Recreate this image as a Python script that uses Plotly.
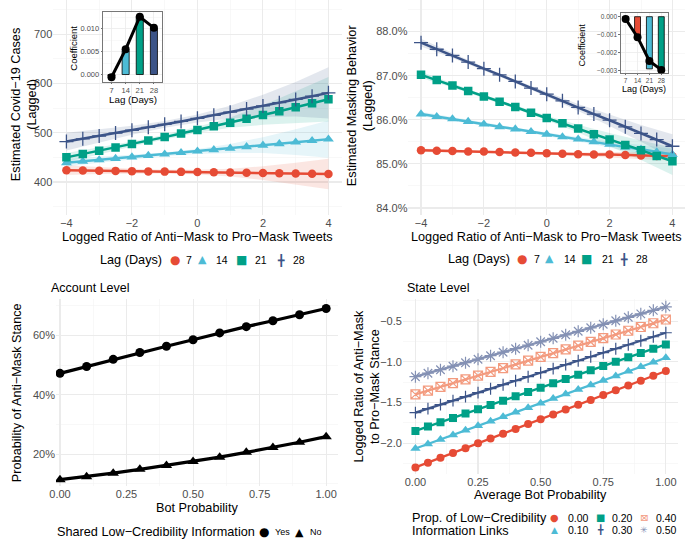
import plotly.graph_objects as go

W, H = 685, 540


def px(x):
    return x / W


def py(y):
    return 1 - y / H


RED, LBLUE, GREEN, NAVY, SALMON, LAV = "#E64B35", "#4DBBD5", "#00A087", "#3C5488", "#F39B7F", "#8491B4"
FONT = "Liberation Sans, Arial, Helvetica, sans-serif"
GLYPH = "DejaVu Sans, sans-serif"

# ---------------- data ----------------
LAGS = ["7", "14", "21", "28"]
LAG_COLORS = [RED, LBLUE, GREEN, NAVY]
LOG_RATIO = [-4, -3.5, -3, -2.5, -2, -1.5, -1, -0.5, 0, 0.5, 1, 1.5, 2, 2.5, 3, 3.5, 4]
RIB_X = [-4, -3, -2, -1, 0, 1, 2, 3, 4]

# Panel A: estimated Covid-19 cases
CASES_7 = [424, 423.5, 423, 422.5, 422, 421.5, 421, 420.5, 420, 419.5, 419, 418.5, 418, 417.5, 417, 416.5, 416]
CASES_14 = [439, 441.9, 444.7, 447.6, 450.5, 453.5, 456.4, 459.4, 462.4, 465.4, 468.4, 471.5, 474.5, 477.6, 480.7, 483.9, 487.0]
CASES_21 = [450, 456.6, 463.3, 470.1, 477.0, 484.0, 491.1, 498.3, 505.6, 513.0, 520.5, 528.2, 535.9, 543.8, 551.8, 559.9, 568.0]
CASES_28 = [482, 487.7, 493.4, 499.2, 505.0, 511.0, 517.0, 523.0, 529.2, 535.4, 541.7, 548.0, 554.5, 561.0, 567.6, 574.2, 581.0]
CASES_LO_7 = [414, 416, 417, 417, 415, 411, 404, 395, 385]
CASES_HI_7 = [434, 430, 427, 425, 425, 427, 432, 439, 447]
CASES_LO_14 = [431, 439, 446, 452, 457, 459, 459, 455, 449]
CASES_HI_14 = [447, 451, 455, 460, 467, 477, 491, 507, 525]
CASES_LO_21 = [441, 456, 472, 486, 500, 510, 516, 520, 523]
CASES_HI_21 = [459, 470, 482, 496, 512, 531, 556, 584, 613]
CASES_LO_28 = [464, 480, 496, 510, 521, 529, 532, 533, 529]
CASES_HI_28 = [500, 507, 514, 524, 537, 555, 577, 603, 633]

# Panel B: estimated masking behaviour (%)
MASK_7 = [85.31, 85.30, 85.29, 85.28, 85.28, 85.27, 85.26, 85.25, 85.24, 85.23, 85.22, 85.21, 85.21, 85.20, 85.19, 85.18, 85.17]
MASK_14 = [86.13, 86.07, 86.02, 85.96, 85.90, 85.84, 85.79, 85.73, 85.67, 85.61, 85.56, 85.50, 85.44, 85.38, 85.33, 85.27, 85.21]
MASK_21 = [87.02, 86.90, 86.78, 86.65, 86.53, 86.41, 86.29, 86.16, 86.04, 85.92, 85.80, 85.67, 85.55, 85.43, 85.31, 85.18, 85.06]
MASK_28 = [87.75, 87.60, 87.46, 87.31, 87.16, 87.02, 86.87, 86.72, 86.58, 86.43, 86.28, 86.13, 85.99, 85.84, 85.69, 85.55, 85.40]
MASK_LO_7 = [85.27, 85.26, 85.26, 85.24, 85.21, 85.18, 85.15, 85.11, 85.07]
MASK_HI_7 = [85.35, 85.32, 85.30, 85.28, 85.27, 85.26, 85.27, 85.27, 85.27]
MASK_LO_14 = [86.08, 85.98, 85.87, 85.76, 85.63, 85.51, 85.37, 85.23, 85.08]
MASK_HI_14 = [86.18, 86.06, 85.93, 85.82, 85.71, 85.61, 85.51, 85.43, 85.34]
MASK_LO_21 = [86.95, 86.73, 86.49, 86.25, 85.99, 85.71, 85.40, 85.09, 84.75]
MASK_HI_21 = [87.09, 86.83, 86.57, 86.33, 86.09, 85.89, 85.70, 85.53, 85.37]
MASK_LO_28 = [87.66, 87.40, 87.12, 86.83, 86.53, 86.20, 85.86, 85.50, 85.13]
MASK_HI_28 = [87.84, 87.52, 87.20, 86.91, 86.63, 86.36, 86.12, 85.88, 85.67]

# Insets: coefficients by lag
INSET_A_BAR = [-0.0004, 0.0052, 0.0127, 0.0101]
INSET_A_PT = [-0.0006, 0.0055, 0.0126, 0.0102]
INSET_A_COLORS = [RED, LBLUE, GREEN, NAVY]
INSET_B_BAR = [0.0, -0.0011, -0.0029, -0.0030]
INSET_B_PT = [-0.00013, -0.00114, -0.00246, -0.00296]
INSET_B_COLORS = [NAVY, RED, LBLUE, GREEN]

# Panel C: account level
BOT_PROB = [0, 0.1, 0.2, 0.3, 0.4, 0.5, 0.6, 0.7, 0.8, 0.9, 1.0]
PROB_YES = [47.2, 49.5, 51.9, 54.2, 56.3, 58.5, 60.8, 62.9, 64.9, 66.9, 69.0]
PROB_NO = [11.4, 12.4, 13.6, 14.9, 16.2, 17.5, 19.0, 20.6, 22.2, 24.0, 25.9]

# Panel D: state level
AVG_BOT = [0, 0.05, 0.1, 0.15, 0.2, 0.25, 0.3, 0.35, 0.4, 0.45, 0.5,
           0.55, 0.6, 0.65, 0.7, 0.75, 0.8, 0.85, 0.9, 0.95, 1.0]
PROP_LABELS = ["0.00", "0.10", "0.20", "0.30", "0.40", "0.50"]
STATE_000 = [-2.298, -2.239, -2.180, -2.120, -2.061, -2.002, -1.943, -1.883, -1.824, -1.765, -1.706,
             -1.646, -1.587, -1.528, -1.469, -1.409, -1.350, -1.291, -1.232, -1.172, -1.113]
STATE_010 = [-2.065, -2.009, -1.954, -1.898, -1.842, -1.786, -1.731, -1.675, -1.619, -1.563, -1.508,
             -1.452, -1.396, -1.340, -1.285, -1.229, -1.173, -1.117, -1.062, -1.006, -0.950]
STATE_020 = [-1.849, -1.796, -1.743, -1.690, -1.636, -1.583, -1.530, -1.477, -1.424, -1.371, -1.318,
             -1.264, -1.211, -1.158, -1.105, -1.052, -0.999, -0.945, -0.892, -0.839, -0.786]
STATE_030 = [-1.624, -1.575, -1.526, -1.477, -1.428, -1.379, -1.330, -1.281, -1.232, -1.183, -1.134,
             -1.084, -1.035, -0.986, -0.937, -0.888, -0.839, -0.790, -0.741, -0.692, -0.643]
STATE_040 = [-1.400, -1.354, -1.308, -1.262, -1.216, -1.170, -1.124, -1.078, -1.032, -0.986, -0.940,
             -0.894, -0.848, -0.802, -0.756, -0.710, -0.664, -0.618, -0.572, -0.526, -0.480]
STATE_050 = [-1.183, -1.140, -1.097, -1.054, -1.011, -0.968, -0.925, -0.882, -0.839, -0.796, -0.754,
             -0.711, -0.668, -0.625, -0.582, -0.539, -0.496, -0.453, -0.410, -0.367, -0.324]


def rgba(hexc, a):
    h = hexc.lstrip("#")
    return "rgba(%d,%d,%d,%.2f)" % (int(h[0:2], 16), int(h[2:4], 16), int(h[4:6], 16), a)


LAG_SYMBOLS = [("circle", 8.5, 0), ("triangle-up", 9.5, 0), ("square", 8.5, 0), ("cross-thin-open", 10, 1.3)]

fig = go.Figure()


def ribbon(x, lo, hi, color, xa, ya):
    fig.add_trace(go.Scatter(
        x=list(x) + list(x)[::-1], y=list(hi) + list(lo)[::-1],
        fill="toself", mode="lines", line=dict(width=0), fillcolor=rgba(color, 0.14),
        hoverinfo="skip", showlegend=False, xaxis=xa, yaxis=ya))


def series(x, y, color, sym, size, lw_m, xa, ya, lw=2.5):
    fig.add_trace(go.Scatter(
        x=x, y=y, mode="lines+markers",
        line=dict(color=color, width=lw),
        marker=dict(symbol=sym, size=size, color=color,
                    line=dict(color=color, width=lw_m)),
        showlegend=False, xaxis=xa, yaxis=ya))


# Panel A
for lo, hi, c in [(CASES_LO_7, CASES_HI_7, RED), (CASES_LO_14, CASES_HI_14, LBLUE),
                  (CASES_LO_21, CASES_HI_21, GREEN), (CASES_LO_28, CASES_HI_28, NAVY)]:
    ribbon(RIB_X, lo, hi, c, "x", "y")
for ys, c, (s, sz, lw) in zip([CASES_7, CASES_14, CASES_21, CASES_28], LAG_COLORS, LAG_SYMBOLS):
    series(LOG_RATIO, ys, c, s, sz, lw, "x", "y")

# Panel B
for lo, hi, c in [(MASK_LO_7, MASK_HI_7, RED), (MASK_LO_14, MASK_HI_14, LBLUE),
                  (MASK_LO_21, MASK_HI_21, GREEN), (MASK_LO_28, MASK_HI_28, NAVY)]:
    ribbon(RIB_X, lo, hi, c, "x2", "y2")
for ys, c, (s, sz, lw) in zip([MASK_7, MASK_14, MASK_21, MASK_28], LAG_COLORS, LAG_SYMBOLS):
    series(LOG_RATIO, ys, c, s, sz, lw, "x2", "y2")

# Panel C
series(BOT_PROB, PROB_YES, "black", "circle", 9, 0, "x3", "y3", lw=3.2)
series(BOT_PROB, PROB_NO, "black", "triangle-up", 10, 0, "x3", "y3", lw=3.2)

# Panel D
D_STYLE = [(STATE_000, RED, "circle", 8, 0), (STATE_010, LBLUE, "triangle-up", 9, 0),
           (STATE_020, GREEN, "square", 8, 0), (STATE_030, NAVY, "cross-thin-open", 8.5, 1.2),
           (STATE_040, SALMON, "square-x-open", 9, 1.2), (STATE_050, LAV, "asterisk-open", 10, 1.2)]
for ys, c, s, sz, lw in D_STYLE:
    series(AVG_BOT, ys, c, s, sz, lw, "x4", "y4", lw=2.3)

# Inset A
fig.add_trace(go.Bar(x=LAGS, y=INSET_A_BAR, width=0.5, marker=dict(color=INSET_A_COLORS, line=dict(color="black", width=0.8)),
                     showlegend=False, xaxis="x5", yaxis="y5"))
fig.add_trace(go.Scatter(x=LAGS, y=INSET_A_PT, mode="lines+markers", line=dict(color="black", width=3),
                         marker=dict(color="black", size=8), showlegend=False, xaxis="x5", yaxis="y5", cliponaxis=False))
# Inset B
fig.add_trace(go.Bar(x=LAGS, y=INSET_B_BAR, width=0.5, marker=dict(color=INSET_B_COLORS, line=dict(color="black", width=0.8)),
                     showlegend=False, xaxis="x6", yaxis="y6"))
fig.add_trace(go.Scatter(x=LAGS, y=INSET_B_PT, mode="lines+markers", line=dict(color="black", width=3),
                         marker=dict(color="black", size=8), showlegend=False, xaxis="x6", yaxis="y6", cliponaxis=False))

GRID = "#EBEBEB"
MINOR = "#F3F3F3"
TICKF = dict(family=FONT, size=11, color="#4D4D4D")


def main_axis(anchor, domain, rng, dtick, mdtick, tick0=0, fmt=None, suffix=""):
    d = dict(anchor=anchor, domain=domain, range=rng, dtick=dtick, tick0=tick0, showgrid=True, gridcolor=GRID,
             gridwidth=1.1, zeroline=False, showline=False, ticks="", tickfont=TICKF, ticksuffix=suffix,
             minor=dict(dtick=mdtick, tick0=tick0, showgrid=True, gridcolor=MINOR, gridwidth=0.6),
             fixedrange=True)
    if fmt:
        d["tickformat"] = fmt
    return d


def inset_axis(anchor, domain, rng, size, cat=False, fmt=None, dtick=None, mdtick=None):
    d = dict(anchor=anchor, domain=domain, range=rng, showline=True, mirror=True, linecolor="#555555",
             linewidth=0.8, showgrid=True, gridcolor=GRID, gridwidth=0.8, zeroline=False,
             ticks="outside", ticklen=1.5, tickwidth=0.7, tickcolor="#333333",
             tickfont=dict(family=FONT, size=size, color="#4D4D4D"), fixedrange=True)
    if cat:
        d["type"] = "category"
    else:
        d["dtick"] = dtick
        d["tick0"] = 0
        d["tickformat"] = fmt
        d["minor"] = dict(dtick=mdtick, tick0=0, showgrid=True, gridcolor=MINOR, gridwidth=0.5)
    return d


fig.update_layout(
    width=W, height=H, margin=dict(l=0, r=0, t=0, b=0),
    paper_bgcolor="white", plot_bgcolor="white", showlegend=False,
    font=dict(family=FONT, color="black"), bargap=0,
    xaxis=main_axis("y", [px(46.8), px(338)], [-4.4, 4.4], 2, 1),
    yaxis=main_axis("x", [py(215), 1.0], [333.7, 769.6], 100, 50),
    xaxis2=main_axis("y2", [px(405.6), 1.0], [-4.4, 4.4], 2, 1),
    yaxis2=main_axis("x2", [py(215), 1.0], [83.849, 88.717], 1, 0.5, fmt=".1f", suffix="%"),
    xaxis3=main_axis("y3", [px(49.5), px(334)], [-0.015, 1.043], 0.25, 0.125, fmt=".2f"),
    yaxis3=main_axis("x3", [py(486.7), py(299.3)], [9.35, 72.3], 20, 10, fmt="d", suffix="%"),
    xaxis4=main_axis("y4", [px(400), px(678.3)], [-0.05, 1.05], 0.25, 0.125, fmt=".2f"),
    yaxis4=main_axis("x4", [py(475), py(299.3)], [-2.38, -0.225], 0.5, 0.25, fmt=".1f"),
    xaxis5=inset_axis("y5", [px(97), px(157)], [-0.6, 3.6], 7.5, cat=True),
    yaxis5=inset_axis("x5", [py(82), py(12.3)], [-0.0016, 0.0136], 7.5, fmt=".3f", dtick=0.005, mdtick=0.0025),
    xaxis6=inset_axis("y6", [px(620), px(668)], [-0.42, 3.58], 6.5, cat=True),
    yaxis6=inset_axis("x6", [py(73.3), py(13.3)], [-0.00314, 0.00019], 6.5, fmt=".3f", dtick=0.001, mdtick=0.0005),
)

ann = []


def text(x, y, s, size=12.7, xanchor="left", color="black", angle=0, family=FONT):
    ann.append(dict(x=px(x), y=py(y), xref="paper", yref="paper", text=s, showarrow=False,
                    xanchor=xanchor, yanchor="middle", textangle=angle,
                    font=dict(family=family, size=size, color=color), borderpad=0))


# axis titles
text(192.4, 237, "Logged Ratio of Anti−Mask to Pro−Mask Tweets", xanchor="center")
text(545.3, 237, "Logged Ratio of Anti−Mask to Pro−Mask Tweets", xanchor="center")
text(191.7, 509.3, "Bot Probability", xanchor="center")
text(539.2, 496, "Average Bot Probability", xanchor="center")
text(17.5, 105, "Estimated Covid−19 Cases<br>(Lagged)", xanchor="center", angle=-90)
text(357, 105, "Estimated Masking Behavior<br>(Lagged)", xanchor="center", angle=-90)
text(10, 393, "Probability of Anti−Mask Stance", xanchor="center", angle=-90)
text(364, 387, "Logged Ratio of Anti−Mask<br>to Pro−Mask Stance", xanchor="center", angle=-90)
text(43.3, 289, "Account Level", size=12.5)
text(402.7, 289, "State Level", size=12.5)
# inset titles
text(67.5, 48, "Coefficient", size=9.5, xanchor="center", angle=-90)
text(127, 100, "Lag (Days)", size=9.8, xanchor="center")
text(580.5, 45, "Coefficient", size=9, xanchor="center", angle=-90)
text(644, 89.5, "Lag (Days)", size=9, xanchor="center")

# legends
GL = {"circle": ("●", 12), "tri": ("▲", 11), "square": ("■", 12), "plus": ("╋", 11),
      "sqx": ("⊠", 12), "ast": ("✳", 11)}


def key(x, y, kind, color, scale=1.0):
    g, s = GL[kind]
    text(x, y, g, size=s * scale, xanchor="center", color=color, family=GLYPH)


for (lx, ly, pos) in [(93.3, 260, [(170, 180), (197.7, 210.5), (236.7, 250), (277.3, 288.3)]),
                      (445, 259.3, [(520, 531.7), (548.3, 561.7), (585, 600), (623.3, 634)])]:
    text(lx, ly, "Lag (Days)")
    for (mx, tx), kind, c, lab in zip(pos, ["circle", "tri", "square", "plus"], LAG_COLORS, LAGS):
        key(mx, ly, kind, c)
        text(tx, ly, lab, size=10.5)

text(50, 533.3, "Shared Low−Credibility Information")
key(259.3, 533.3, "circle", "black")
text(270, 533.3, "Yes", size=9)
key(296, 533.3, "tri", "black")
text(305, 533.3, "No", size=9)

text(408.3, 519.3, "Prop. of Low−Credibility")
text(408.3, 531.7, "Information Links")
D_KEYS = [(553.3, 566, 518.7, "circle", RED), (553.3, 566, 531, "tri", LBLUE),
          (599.3, 610, 518.7, "square", GREEN), (599.3, 610, 531, "plus", NAVY),
          (643.3, 655, 518.7, "sqx", SALMON), (643.3, 655, 531, "ast", LAV)]
for (mx, tx, yy, kind, c), lab in zip(D_KEYS, PROP_LABELS):
    key(mx, yy, kind, c, scale=0.82)
    text(tx, yy, lab, size=10.5)

fig.update_layout(annotations=ann)
fig.write_html("out.html", config={"displayModeBar": False, "staticPlot": True},
               post_script="document.body.style.margin='0px';document.body.style.overflow='hidden';")
